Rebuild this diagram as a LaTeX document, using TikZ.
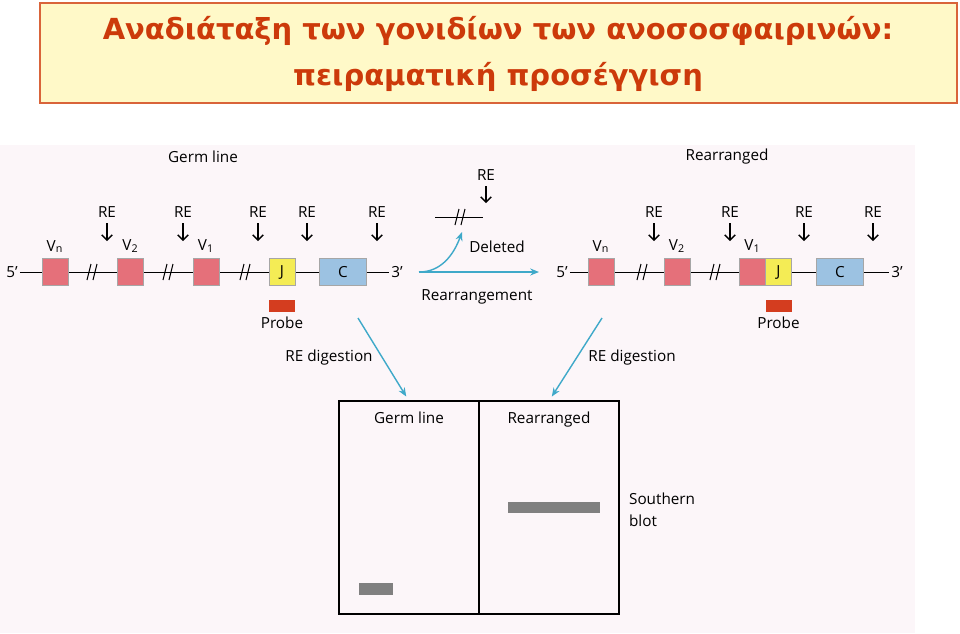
\documentclass[tikz,border=0pt]{standalone}
\usepackage{fontspec}
\setmainfont{Open Sans}
\newfontfamily\titlefont{DejaVu Sans}
\usepackage{xcolor}
\usetikzlibrary{positioning, arrows.meta}

\definecolor{vred}{HTML}{E5707A}
\definecolor{jyel}{HTML}{F4EC55}
\definecolor{cblue}{HTML}{9CC2E2}
\definecolor{probered}{HTML}{D43D1F}
\definecolor{arrowcyan}{HTML}{3FA9C9}
\definecolor{titlefill}{HTML}{FFF9C8}
\definecolor{titleline}{HTML}{D9643A}
\definecolor{titletext}{HTML}{CC3A0A}
\definecolor{bgpink}{HTML}{FCF6F9}

\begin{document}
\begin{tikzpicture}[x=0.02cm, y=-0.02cm, font=\fontsize{8.7}{10}\selectfont, inner sep=1pt,
    vseg/.style={draw=black!35, fill=vred, minimum width=0.52cm, minimum height=0.54cm, inner sep=0pt, outer sep=0pt},
    jseg/.style={vseg, fill=jyel},
    cseg/.style={vseg, fill=cblue, minimum width=0.94cm},
    probe/.style={fill=probered, minimum width=0.52cm, minimum height=0.25cm, inner sep=0pt},
    band/.style={fill=black!50, inner sep=0pt},
    lane/.style={draw, thick, minimum width=2.8cm, minimum height=4.26cm, inner sep=0pt, outer sep=0pt},
    cut/.style={thick, -{Straight Barb[length=3pt]}},
    flow/.style={arrowcyan, thick, -{Stealth[length=5pt, width=4pt]}},
    brk/.style={semithick}]

    \useasboundingbox (0,0) rectangle (960,633);
    \fill[bgpink] (0,145) rectangle (915,633);

    % title
    \node[draw=titleline, fill=titlefill, line width=0.8pt, minimum width=18.34cm, minimum height=2cm] (title) at (498.5,53) {};
    \node[titletext, font=\titlefont\bfseries\fontsize{16.5}{19}\selectfont] (title1) at (498,31) {Αναδιάταξη των γονιδίων των ανοσοσφαιρινών:};
    \node[titletext, font=\titlefont\bfseries\fontsize{16.5}{19}\selectfont] (title2) at (498,77) {πειραματική προσέγγιση};

    % germ line
    \node (glabel) at (203,157) {Germ line};
    \node (g5) at (12,272) {5’};
    \node (g3) at (397,272) {3’};
    \draw (g5) -- (g3);
    \foreach \x in {92,168,245}
        \draw[brk] (\x-5,280) -- (\x-1,264) (\x+1,280) -- (\x+5,264);
    \node[vseg] (gVn) at (55,272) {};
    \node[vseg] (gV2) at (130.5,272) {};
    \node[vseg] (gV1) at (206,272) {};
    \node[jseg] (gJ) at (282,272) {J};
    \node[cseg] (gC) at (343,272) {C};
    \node[above=2pt of gVn] (gVnl) {V\textsubscript{n}};
    \node[above=2pt of gV2] (gV2l) {V\textsubscript{2}};
    \node[above=2pt of gV1] (gV1l) {V\textsubscript{1}};
    \foreach \x in {107,183,258,307,377} {
        \node (gre\x) at (\x,212) {RE};
        \draw[cut] ([yshift=-2pt]gre\x.south) -- ++(0,18);
    }
    \node[probe, below=0.28cm of gJ] (gprobe) {};
    \node[below=1pt of gprobe] (gprobel) {Probe};

    % deletion / rearrangement
    \node (dre) at (486,175) {RE};
    \draw[cut] ([yshift=-2pt]dre.south) -- ++(0,17);
    \coordinate (dl) at (435,217);
    \coordinate (dr) at (483,217);
    \draw (dl) -- (dr);
    \draw[brk] (455,225) -- (459,209) (461,225) -- (465,209);
    \coordinate (fork) at (419,272);
    \coordinate (delend) at (462,232);
    \coordinate (rend) at (539,272);
    \draw[flow] (fork) to[out=0, in=-110] (delend);
    \draw[flow] (fork) -- (rend);
    \node (deleted) at (497,247) {Deleted};
    \node (rearr) at (477,297) {Rearrangement};

    % rearranged
    \node (rlabel) at (727,157) {Rearranged};
    \node (r5) at (562,272) {5’};
    \node (r3) at (897,272) {3’};
    \draw (r5) -- (r3);
    \foreach \x in {642,715}
        \draw[brk] (\x-5,280) -- (\x-1,264) (\x+1,280) -- (\x+5,264);
    \node[vseg] (rVn) at (601,272) {};
    \node[vseg] (rV2) at (677,272) {};
    \node[vseg] (rV1) at (752.5,272) {};
    \node[jseg, right=0pt of rV1] (rJ) {J};
    \node[cseg] (rC) at (840,272) {C};
    \node[above=2pt of rVn] (rVnl) {V\textsubscript{n}};
    \node[above=2pt of rV2] (rV2l) {V\textsubscript{2}};
    \node[above=2pt of rV1] (rV1l) {V\textsubscript{1}};
    \foreach \x in {654,730,804,873} {
        \node (rre\x) at (\x,212) {RE};
        \draw[cut] ([yshift=-2pt]rre\x.south) -- ++(0,18);
    }
    \node[probe, below=0.28cm of rJ] (rprobe) {};
    \node[below=1pt of rprobe] (rprobel) {Probe};

    % southern blot
    \node[lane] (laneG) at (409,507.5) {};
    \node[lane, right=0pt of laneG] (laneR) {};
    \node[below=5pt of laneG.north] (laneGl) {Germ line};
    \node[below=5pt of laneR.north] (laneRl) {Rearranged};
    \node[band, minimum width=0.68cm, minimum height=0.24cm] (gband) at (376,589) {};
    \node[band, minimum width=1.84cm, minimum height=0.22cm] (rband) at (554,507.5) {};
    \node[align=left, anchor=west, font=\fontsize{8.7}{12.5}\selectfont] (sblot) at (627,510) {Southern\\blot};
    \coordinate (dgl) at (358,318);
    \coordinate (dgr) at (602,318);
    \draw[flow, shorten >=3pt] (dgl) -- (laneG.north);
    \draw[flow, shorten >=3pt] (dgr) -- (laneR.north);
    \node (digl) at (329,358) {RE digestion};
    \node (digr) at (632,358) {RE digestion};
\end{tikzpicture}
\end{document}
